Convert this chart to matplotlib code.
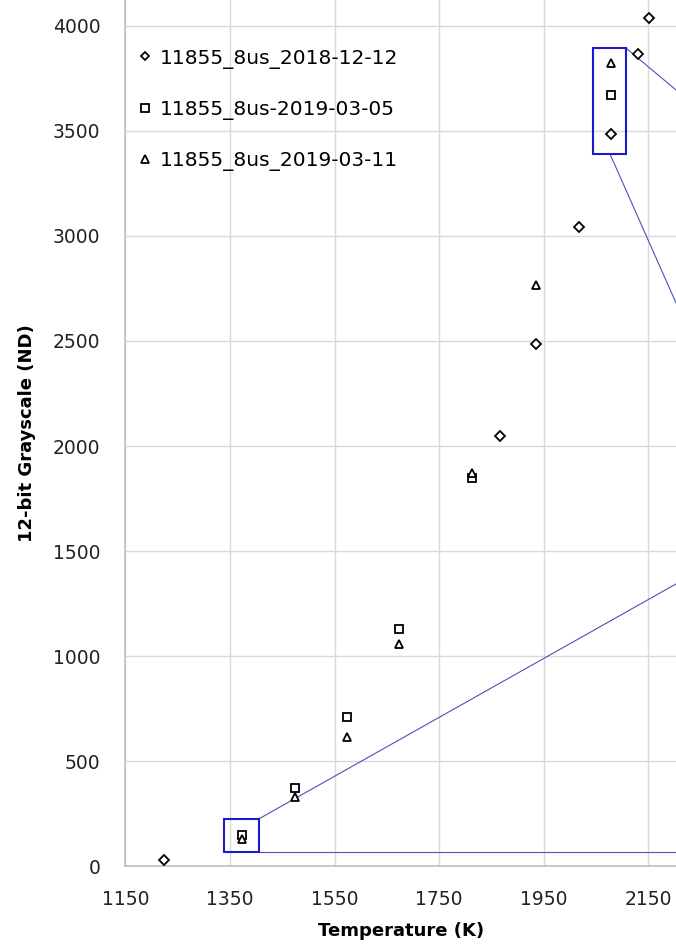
import matplotlib
matplotlib.use("Agg")
import matplotlib.pyplot as plt
from matplotlib.patches import Rectangle

# measured grayscale vs. temperature, three runs
t_1212 = [1223, 1866, 1936, 2017, 2079, 2130, 2151]
g_1212 = [30, 2049, 2484, 3041, 3483, 3865, 4035]

t_0305 = [1373, 1474, 1573, 1673, 1812, 2079]
g_0305 = [150, 375, 713, 1128, 1847, 3670]

t_0311 = [1373, 1474, 1573, 1673, 1812, 1936, 2079]
g_0311 = [130, 331, 617, 1057, 1873, 2766, 3821]

labels = ["11855_8us_2018-12-12", "11855_8us-2019-03-05", "11855_8us_2019-03-11"]
x_ticks = [1150, 1350, 1550, 1750, 1950, 2150]
y_ticks = [0, 500, 1000, 1500, 2000, 2500, 3000, 3500, 4000]

plt.rcParams["font.family"] = "DejaVu Sans"

fig = plt.figure(figsize=(6.76, 9.48), dpi=100)
ax = fig.add_axes([0.1855, 0.086, 0.8145, 0.914])
ax.set_xlim(1150, 2203)
ax.set_ylim(0, 4122)

ax.set_xticks(x_ticks)
ax.set_yticks(y_ticks)
ax.grid(True, color="#d9d9d9", lw=1.0)
ax.set_axisbelow(True)
for s in ["top", "right"]:
    ax.spines[s].set_visible(False)
for s in ["left", "bottom"]:
    ax.spines[s].set_color("#bfbfbf")
    ax.spines[s].set_linewidth(1.2)
ax.tick_params(length=0, labelsize=13.5, colors="#222222")
ax.tick_params(axis="y", pad=18)
ax.tick_params(axis="x", pad=17)

mk = dict(ls="none", mfc="white", mec="black", mew=1.3, zorder=4)
ax.plot(t_1212, g_1212, marker="D", ms=4.8, label=labels[0], **mk)
ax.plot(t_0305, g_0305, marker="s", ms=5.8, label=labels[1], **mk)
ax.plot(t_0311, g_0311, marker="^", ms=6.2, label=labels[2], **mk)

# zoom boxes with leader lines running off to the right
box_col = "#1a1acc"
line_col = "#5050b8"
ax.add_patch(Rectangle((1338, 68), 67, 158, fill=False, ec=box_col, lw=1.5, zorder=3))
ax.add_patch(Rectangle((2045, 3388), 63, 504, fill=False, ec=box_col, lw=1.5, zorder=3))
ax.plot([1405, 2203], [68, 68], color=line_col, lw=0.8, zorder=2)
ax.plot([1405, 2203], [226, 1344], color=line_col, lw=0.8, zorder=2)
ax.plot([2108, 2203], [3892, 3694], color=line_col, lw=0.8, zorder=2)
ax.plot([2077, 2203], [3388, 2681], color=line_col, lw=0.8, zorder=2)

ax.set_xlabel("Temperature (K)", fontsize=13, fontweight="bold", labelpad=9)
ax.set_ylabel("12-bit Grayscale (ND)", fontsize=13, fontweight="bold", labelpad=12)

ax.legend(loc="upper left", bbox_to_anchor=(0.021, 0.944), frameon=False,
          fontsize=14.5, handlelength=0.8, handletextpad=0.35, labelspacing=1.55,
          borderpad=0, borderaxespad=0, numpoints=1, markerscale=0.9)

fig.savefig("out.png", dpi=100)
